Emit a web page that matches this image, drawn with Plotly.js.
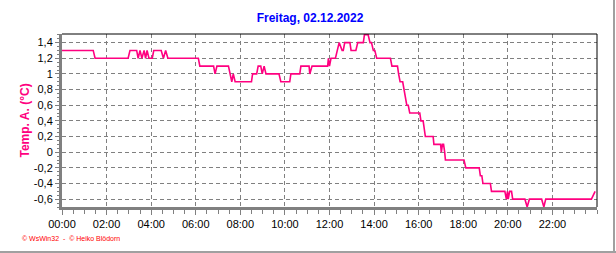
<!DOCTYPE html>
<html>
<head>
<meta charset="utf-8">
<script src="https://cdn.plot.ly/plotly-3.0.1.min.js"></script>
<style>
  html, body { margin: 0; padding: 0; background: #ffffff; }
  #wrap { position: relative; width: 616px; height: 253px; overflow: hidden; }
  #chart { position: absolute; left: 0; top: 0; width: 616px; height: 253px; }
  #frameR { position: absolute; left: 613px; top: 0; width: 2px; height: 253px; background: #a0a0a0; }
  #frameB { position: absolute; left: 0; top: 251px; width: 616px; height: 2px; background: #a0a0a0; }
</style>
</head>
<body>
<div id="wrap">
  <div id="chart"></div>
  <div id="frameR"></div>
  <div id="frameB"></div>
</div>
<script>
// ---- data ----
const day = '2022-12-02';
const nextDay = '2022-12-03';
const chartTitle = 'Freitag, 02.12.2022';
const yAxisTitle = 'Temp. A. (°C)';
const credits = '© WsWin32  -  © Heiko Blödorn';

const times = [
  '00:00','01:24','01:29','02:58','03:03','03:21','03:25','03:30','03:35','03:41',
  '03:45','03:49','03:54','04:03','04:07','04:27','04:33','04:39','04:45','06:07',
  '06:11','06:48','06:52','06:57','07:28','07:32','07:37','07:41','07:46','08:30',
  '08:33','08:44','08:48','08:55','08:59','09:04','09:09','09:44','09:49','10:13',
  '10:16','10:40','10:43','11:05','11:07','11:13','11:55','11:57','12:00','12:04',
  '12:16','12:21','12:26','12:34','12:37','12:41','12:55','12:58','13:11','13:16',
  '13:31','13:34','13:44','13:49','13:53','13:58','14:02','14:07','14:44','14:48',
  '15:03','15:06','15:10','15:17','15:20','15:25','15:28','15:32','15:36','16:03',
  '16:06','16:12','16:14','16:18','16:39','16:41','16:59','17:01','17:04','17:07',
  '17:10','17:12','18:02','18:07','18:43','18:46','18:50','18:53','19:13','19:16',
  '19:52','19:56','19:59','20:01','20:05','20:10','20:13','20:46','20:52','20:58',
  '21:31','21:37','21:42','23:45','23:55'
];
const temps = [
  1.3, 1.3, 1.2, 1.2, 1.3, 1.3, 1.2, 1.3, 1.2, 1.3,
  1.2, 1.3, 1.2, 1.2, 1.3, 1.3, 1.2, 1.3, 1.2, 1.2,
  1.1, 1.1, 1.0, 1.1, 1.1, 1.0, 0.9, 1.0, 0.9, 0.9,
  1.0, 1.0, 1.1, 1.1, 1.0, 1.1, 1.0, 1.0, 0.9, 0.9,
  1.0, 1.0, 1.1, 1.1, 1.0, 1.1, 1.1, 1.2, 1.1, 1.2,
  1.2, 1.3, 1.4, 1.3, 1.3, 1.4, 1.4, 1.3, 1.3, 1.4,
  1.4, 1.5, 1.5, 1.4, 1.4, 1.3, 1.3, 1.2, 1.2, 1.1,
  1.1, 1.0, 0.9, 0.9, 0.8, 0.7, 0.6, 0.6, 0.5, 0.5,
  0.4, 0.4, 0.3, 0.2, 0.2, 0.1, 0.1, 0.0, 0.1, 0.1,
  0.0, -0.1, -0.1, -0.2, -0.2, -0.3, -0.3, -0.4, -0.4, -0.5,
  -0.5, -0.6, -0.5, -0.6, -0.5, -0.5, -0.6, -0.6, -0.7, -0.6,
  -0.6, -0.7, -0.6, -0.6, -0.5
];

const xTickLabels = ['00:00','02:00','04:00','06:00','08:00','10:00','12:00','14:00','16:00','18:00','20:00','22:00'];
const yTickVals = [-0.6, -0.4, -0.2, 0, 0.2, 0.4, 0.6, 0.8, 1, 1.2, 1.4];
const yTickLabels = ['-0,6','-0,4','-0,2','0','0,2','0,4','0,6','0,8','1','1,2','1,4'];
const yRange = [-0.7, 1.51];

// ---- chart ----
const lineColor = '#ff0080';
const gray = '#808080';
const font = 'Arial, "Liberation Sans", sans-serif';

const trace = {
  x: times.map(t => day + ' ' + t),
  y: temps,
  type: 'scatter',
  mode: 'lines',
  line: { color: lineColor, width: 1.6 },
  hoverinfo: 'skip'
};

const layout = {
  width: 616,
  height: 253,
  margin: { l: 62, r: 19, t: 34, b: 46, pad: 0 },
  paper_bgcolor: '#ffffff',
  plot_bgcolor: '#ffffff',
  showlegend: false,
  font: { family: font, size: 11, color: '#000000' },
  title: {
    text: '<b>' + chartTitle + '</b>',
    font: { family: font, size: 12, color: '#0000ff' },
    x: 310 / 616, xanchor: 'center', xref: 'container',
    y: 1 - 18 / 253, yanchor: 'middle', yref: 'container'
  },
  xaxis: {
    type: 'date',
    range: [day + ' 00:00', nextDay + ' 00:00'],
    tickmode: 'array',
    tickvals: xTickLabels.map(t => day + ' ' + t),
    ticktext: xTickLabels,
    ticks: 'outside', ticklen: 5, tickwidth: 1, tickcolor: gray,
    tickfont: { family: font, size: 11, color: '#000000' },
    showline: true, linecolor: gray, linewidth: 3,
    showgrid: true, gridcolor: gray, gridwidth: 1, griddash: '4px,3px',
    zeroline: false,
    minor: { tickmode: 'linear', tick0: day + ' 00:00', dtick: 1800000, ticks: 'outside', ticklen: 4, tickcolor: gray, showgrid: false },
    fixedrange: true
  },
  yaxis: {
    range: yRange,
    tickmode: 'array',
    tickvals: yTickVals,
    ticktext: yTickLabels,
    ticks: 'outside', ticklen: 4, tickwidth: 1, tickcolor: gray,
    tickfont: { family: font, size: 11, color: '#000000' },
    showline: true, linecolor: gray, linewidth: 3,
    showgrid: true, gridcolor: gray, gridwidth: 1, griddash: '4px,3px',
    zeroline: false,
    minor: { tickmode: 'linear', tick0: 0, dtick: 0.05, ticks: 'outside', ticklen: 2, tickcolor: gray, showgrid: false },
    fixedrange: true
  },
  shapes: [
    { type: 'line', xref: 'paper', yref: 'paper', x0: 0, x1: 1, y0: 1, y1: 1, line: { color: '#000000', width: 1 } },
    { type: 'line', xref: 'paper', yref: 'paper', x0: 1, x1: 1, y0: 0, y1: 1, line: { color: '#000000', width: 1 } }
  ],
  annotations: [
    {
      text: '<b>' + yAxisTitle + '</b>',
      xref: 'paper', yref: 'paper',
      x: (24 - 62) / 535, y: 0.5,
      xanchor: 'center', yanchor: 'middle',
      textangle: -90, showarrow: false,
      font: { family: font, size: 12, color: lineColor }
    },
    {
      text: credits,
      xref: 'paper', yref: 'paper',
      x: (20 - 62) / 535, y: (207 - 239) / 173,
      xanchor: 'left', yanchor: 'middle',
      showarrow: false,
      font: { family: font, size: 7, color: '#ff0000' }
    }
  ]
};

Plotly.newPlot('chart', [trace], layout, { staticPlot: true, displayModeBar: false });
</script>
</body>
</html>
